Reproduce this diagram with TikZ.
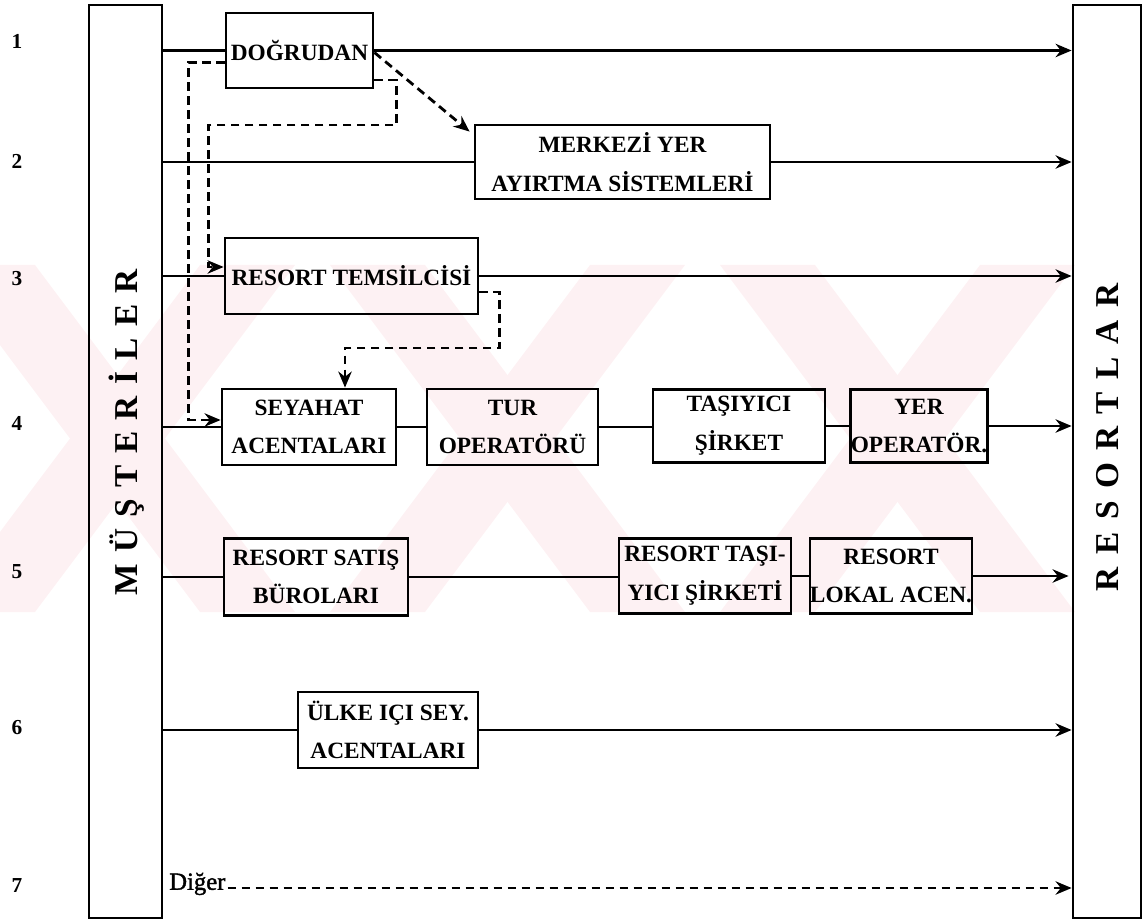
\documentclass[tikz,border=0pt]{standalone}
\usepackage{fontspec}
\setmainfont{Liberation Serif}
\newfontfamily\boxfont[FakeBold=1.5]{Liberation Serif}
\usetikzlibrary{arrows.meta,calc}
\definecolor{wm}{HTML}{FDF1F3}
\tikzset{
  box/.style={draw, line width=2.1pt, inner sep=0pt, align=center,
    font=\bfseries\fontsize{17.5}{29}\selectfont},
  side/.style={draw, line width=2.1pt, inner sep=0pt,
    minimum height=684.75pt},
  sidetext/.style={rotate=90, font=\bfseries\fontsize{25}{25}\selectfont},
  num/.style={font=\bfseries\fontsize{16}{16}\selectfont},
  link/.style={line width=2.1pt},
  arr/.style={line width=2.1pt, -{Stealth[length=12pt,width=10pt]}},
  dashline/.style={line width=2.1pt, dash pattern=on 6.5pt off 4pt},
  dasharr/.style={dashline, -{Stealth[length=12pt,width=10pt]}},
}
\begin{document}
\begin{tikzpicture}[x=0.75pt,y=-0.75pt]
\useasboundingbox (0,0) rectangle (1146,923);
% watermark stripes
\begin{scope}
\clip (0,265) rectangle (1146,612);
\foreach \a in {-60,330,720} {
  \fill[wm] (\a,265) -- (\a+95,265) -- (\a+355,612) -- (\a+260,612) -- cycle;
}
\foreach \b in {-60,330,720} {
  \fill[wm] (\b,612) -- (\b+95,612) -- (\b+355,265) -- (\b+260,265) -- cycle;
}
\end{scope}

% side boxes
\node[side, minimum width=54.75pt] (mus) at (125.5,461.5) {};
\node[side, minimum width=51pt] (res) at (1107,461.5) {};
\node[sidetext] (mustext) at (127,438) {\addfontfeature{LetterSpace=34}MÜŞTERİLER\kern-0.34em};
\node[sidetext] (restext) at (1108,444) {\addfontfeature{LetterSpace=38}RESORTLAR\kern-0.38em};

% row numbers
\node[num] (n1) at (17,41) {1};
\node[num] (n2) at (17,161) {2};
\node[num] (n3) at (17,279) {3};
\node[num] (n4) at (17,423) {4};
\node[num] (n5) at (17,572) {5};
\node[num] (n6) at (17,728) {6};
\node[num] (n7) at (17,886) {7};

% boxes
\node[box, minimum width=110.25pt, minimum height=56.25pt] (dog) at (299.5,50.5) {DOĞRUDAN};
\node[box, minimum width=221.25pt, minimum height=55.5pt] (mer) at (622.5,162) {MERKEZİ YER\\AYIRTMA SİSTEMLERİ};
\node[box, minimum width=189.75pt, minimum height=57pt] (tem) at (351.5,276) {RESORT TEMSİLCİSİ};
\node[box, minimum width=130.5pt, minimum height=57pt] (sey) at (309,427) {SEYAHAT\\ACENTALARI};
\node[box, minimum width=128.25pt, minimum height=57pt] (tur) at (512.5,427) {TUR\\OPERATÖRÜ};
\node[box, minimum width=129pt, minimum height=55pt] (tas) at (739,426) {TAŞIYICI\\ŞİRKET};
\node[box, minimum width=91.5pt, minimum height=55pt] (yer) at (919,426) {YER\\OPERATÖR.};
\node[box, minimum width=138pt, minimum height=57.75pt] (sat) at (316,577) {RESORT SATIŞ\\BÜROLARI};
\node[box, minimum width=129pt, minimum height=56pt] (rtas) at (705,576) {RESORT TAŞI-\\YICI ŞİRKETİ};
\node[box, minimum width=103.5pt, minimum height=56pt] (lok) at (891,576) {RESORT\\LOKAL ACEN.};
\node[box, minimum width=135pt, minimum height=57pt] (ulk) at (388,730) {ÜLKE IÇI SEY.\\ACENTALARI};
\node[font=\boxfont\fontsize{18.5}{22}\selectfont, inner sep=0pt, anchor=west] (dig) at (169,884) {Diğer};

% row 1
\draw[link] (mus.east |- dog.west) -- (dog.west);
\draw[arr] (dog.east) -- (res.west |- dog.east);
% row 2
\draw[link] (mus.east |- mer.west) -- (mer.west);
\draw[arr] (mer.east) -- (res.west |- mer.east);
% row 3
\draw[link] (mus.east |- tem.west) -- (tem.west);
\draw[arr] (tem.east) -- (res.west |- tem.east);
% row 4
\draw[link] (mus.east |- sey.west) -- (sey.west);
\draw[link] (sey.east) -- (tur.west |- sey.east);
\draw[link] (tur.east) -- (tas.west |- tur.east);
\draw[link] (tas.east) -- (yer.west |- tas.east);
\draw[arr] (yer.east) -- (res.west |- yer.east);
% row 5
\draw[link] (mus.east |- sat.west) -- (sat.west);
\draw[link] (sat.east) -- (rtas.west |- sat.east);
\draw[link] (rtas.east) -- (lok.west |- rtas.east);
\draw[arr] (lok.east) -- ([shift={(-3,0)}]res.west |- lok.east);
% row 6
\draw[link] (mus.east |- ulk.west) -- (ulk.west);
\draw[arr] (ulk.east) -- (res.west |- ulk.east);
% row 7
\draw[dasharr] ([shift={(2,4)}]dig.east) -- ([shift={(0,4)}]res.west |- dig.east);

% dashed connectors
\draw[dasharr] ([shift={(0,12)}]dog.west) -- ++(-36,0) |- ([shift={(0,-7)}]sey.west);
\draw[dasharr] ([shift={(0,29.5)}]dog.east) -- ++(22,0) -- ++(0,45) -| ([shift={(-15,-9)}]tem.west) -- ([shift={(0,-9)}]tem.west);
\draw[dasharr] ([shift={(0,2)}]dog.east) -- ([shift={(-4,8)}]mer.north west);
\draw[dasharr] ([shift={(0,16)}]tem.east) -- ++(20,0) -- ++(0,56) -| ([shift={(36,0)}]sey.north);
\end{tikzpicture}
\end{document}
